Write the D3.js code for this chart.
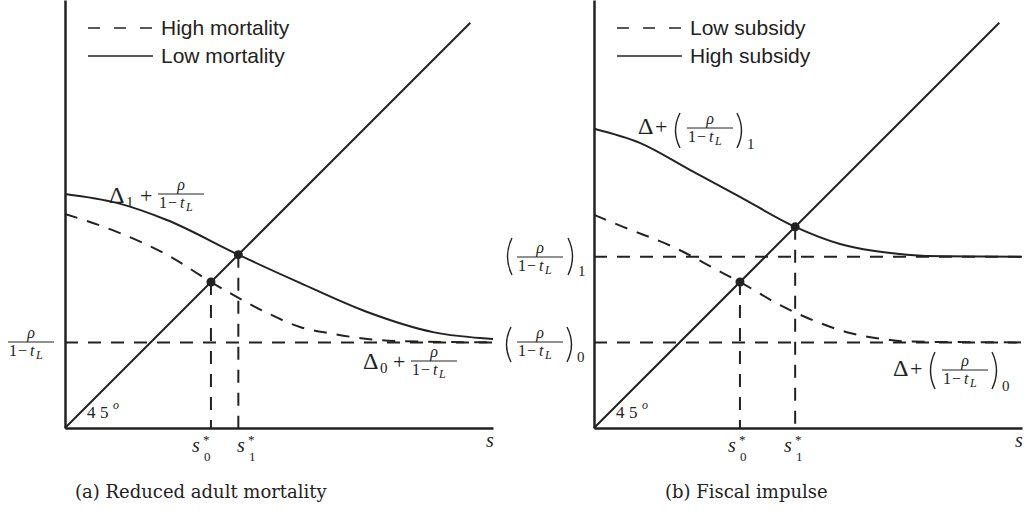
<!DOCTYPE html>
<html>
<head>
<meta charset="utf-8">
<script src="https://cdn.jsdelivr.net/npm/d3@7"></script>
<style>
body { margin: 0; background: #fff; }
svg { display: block; }
.math { font-family: "Liberation Serif", "Times New Roman", serif; fill: #222; }
.legend { font-family: "Liberation Sans", Arial, sans-serif; font-size: 21px; fill: #222; }
.caption { font-family: "DejaVu Serif", serif; font-size: 18px; fill: #222; }
</style>
</head>
<body>
<svg id="chart" width="1027" height="523"></svg>
<script>
// curves, in axis units (both axes run 0..10)
const lowMortality  = [[0, 5.47], [1.21, 5.26], [2.38, 4.86], [4.05, 4.05], [5.49, 3.39], [7.06, 2.71], [8.60, 2.24], [10, 2.08]];
const highMortality = [[0, 5.0], [1.17, 4.60], [2.52, 3.97], [3.41, 3.41], [3.93, 3.11], [4.72, 2.69], [5.49, 2.36], [6.26, 2.20], [7.06, 2.08], [7.83, 2.03], [10, 2.0]];
const highSubsidy   = [[0, 6.99], [1.07, 6.66], [2.24, 6.03], [3.41, 5.40], [4.70, 4.70], [5.75, 4.30], [6.52, 4.14], [7.31, 4.05], [8.2, 4.01], [10, 4.0]];
const lowSubsidy    = [[0, 4.98], [0.68, 4.70], [1.85, 4.23], [3.01, 3.62], [3.41, 3.41], [4.35, 2.87], [5.21, 2.48], [5.98, 2.22], [6.75, 2.08], [7.31, 2.02], [10, 2.0]];

const levelsA = [2.0];        // rho/(1-t_L)
const levelsB = [2.0, 4.0];   // (rho/(1-t_L))_0 , (rho/(1-t_L))_1
const equilibriaA = [3.41, 4.05];
const equilibriaB = [3.41, 4.70];
const diagonalEnd = 9.47;

const legendA = ["High mortality", "Low mortality"];
const legendB = ["Low subsidy", "High subsidy"];
const captions = ["(a) Reduced adult mortality", "(b) Fiscal impulse"];

const INK = "#222";
const SIZE = 428;
const DASH = "13,10";

const svg = d3.select("#chart");

const drawPanel = (ox, dashedCurve, solidCurve, levels, eqs, legend) => {
  const x = d3.scaleLinear().domain([0, 10]).range([ox, ox + SIZE]);
  const y = d3.scaleLinear().domain([0, 10]).range([SIZE, 0]);
  const g = svg.append("g");

  const line = d3.line()
    .x(d => x(d[0]))
    .y(d => y(d[1]))
    .curve(d3.curveMonotoneX);

  // horizontal reference levels
  g.selectAll(".level")
    .data(levels)
    .enter().append("line")
    .attr("class", "level")
    .attr("x1", x(0)).attr("x2", x(10))
    .attr("y1", d => y(d)).attr("y2", d => y(d))
    .attr("stroke", INK).attr("stroke-width", 2)
    .attr("stroke-dasharray", DASH);

  g.append("path")
    .datum(dashedCurve)
    .attr("d", line)
    .attr("fill", "none").attr("stroke", INK).attr("stroke-width", 2)
    .attr("stroke-dasharray", DASH);

  g.append("path")
    .datum(solidCurve)
    .attr("d", line)
    .attr("fill", "none").attr("stroke", INK).attr("stroke-width", 2);

  // 45 degree line
  g.append("line")
    .attr("x1", x(0)).attr("y1", y(0))
    .attr("x2", x(diagonalEnd)).attr("y2", y(diagonalEnd))
    .attr("stroke", INK).attr("stroke-width", 2);

  g.selectAll(".drop")
    .data(eqs)
    .enter().append("line")
    .attr("class", "drop")
    .attr("x1", d => x(d)).attr("x2", d => x(d))
    .attr("y1", d => y(d)).attr("y2", y(0))
    .attr("stroke", INK).attr("stroke-width", 2)
    .attr("stroke-dasharray", DASH);

  g.selectAll(".eq")
    .data(eqs)
    .enter().append("circle")
    .attr("class", "eq")
    .attr("cx", d => x(d)).attr("cy", d => y(d))
    .attr("r", 4.5)
    .attr("fill", INK);

  // axes: bare lines, no ticks
  g.append("g")
    .attr("transform", "translate(0," + y(0) + ")")
    .call(d3.axisBottom(x).tickValues([]).tickSizeOuter(0));
  g.append("g")
    .attr("transform", "translate(" + x(0) + ",0)")
    .call(d3.axisLeft(y).tickValues([]).tickSizeOuter(0));
  g.selectAll(".domain").attr("stroke", INK).attr("stroke-width", 2.5);

  // legend
  legend.forEach((name, i) => {
    const ly = 28 + i * 28;
    g.append("line")
      .attr("x1", ox + 23).attr("x2", ox + 88)
      .attr("y1", ly).attr("y2", ly)
      .attr("stroke", INK).attr("stroke-width", 1.6)
      .attr("stroke-dasharray", i == 0 ? "12,14" : null);
    g.append("text")
      .attr("class", "legend")
      .attr("x", ox + 96).attr("y", ly + 7)
      .text(name);
  });

  // 45^o label
  const deg = g.append("text").attr("class", "math").attr("y", 418).style("font-size", "17px");
  deg.append("tspan").attr("x", ox + 22).text("4");
  deg.append("tspan").attr("x", ox + 35).text("5");
  deg.append("tspan").attr("x", ox + 48).attr("dy", -9)
    .style("font-size", "12px").style("font-style", "italic").text("o");

  // axis label s
  g.append("text").attr("class", "math")
    .attr("x", ox + SIZE - 7).attr("y", 447)
    .style("font-size", "20px").style("font-style", "italic")
    .text("s");

  return g;
};

// --- little typesetting helpers for the math labels ---
const frac = (g, x0, barY) => {
  g.append("line")
    .attr("x1", x0).attr("x2", x0 + 46)
    .attr("y1", barY).attr("y2", barY)
    .attr("stroke", INK).attr("stroke-width", 1);
  g.append("text").attr("class", "math")
    .attr("x", x0 + 23).attr("y", barY - 4)
    .attr("text-anchor", "middle")
    .style("font-size", "16px").style("font-style", "italic")
    .text("ρ");
  const d = g.append("text").attr("class", "math")
    .attr("y", barY + 14).style("font-size", "16px");
  d.append("tspan").attr("x", x0 + 1).text("1");
  d.append("tspan").attr("x", x0 + 10).text("−");
  d.append("tspan").attr("x", x0 + 22).style("font-style", "italic").text("t");
  d.append("tspan").attr("x", x0 + 28).attr("dy", 3)
    .style("font-style", "italic").style("font-size", "12px").text("L");
};

const paren = (g, x0, top, bottom, open) => {
  const mid = (top + bottom) / 2;
  const dpath = open
    ? "M" + (x0 + 7) + "," + top + "Q" + (x0 - 2) + "," + mid + " " + (x0 + 7) + "," + bottom
    : "M" + x0 + "," + top + "Q" + (x0 + 9) + "," + mid + " " + x0 + "," + bottom;
  g.append("path").attr("d", dpath)
    .attr("fill", "none").attr("stroke", INK).attr("stroke-width", 1.4);
};

const txt = (g, x0, y0, s, size, italic) => {
  g.append("text").attr("class", "math")
    .attr("x", x0).attr("y", y0)
    .style("font-size", size + "px")
    .style("font-style", italic ? "italic" : "normal")
    .text(s);
};

// s^*_k : star and index stacked above each other
const starLabel = (g, x0, sub) => {
  txt(g, x0, 452, "s", 20, true);
  txt(g, x0 + 11, 444, "*", 13, false);
  txt(g, x0 + 12, 461, sub, 13, false);
};

const gA = drawPanel(65, highMortality, lowMortality, levelsA, equilibriaA, legendA);
const gB = drawPanel(594, lowSubsidy, highSubsidy, levelsB, equilibriaB, legendB);

// panel (a) labels
frac(gA, 8, 342);
txt(gA, 109, 203, "Δ", 24, false);
txt(gA, 126, 207, "1", 15, false);
txt(gA, 140, 203, "+", 22, false);
frac(gA, 158, 194);
txt(gA, 363, 369, "Δ", 24, false);
txt(gA, 380, 373, "0", 15, false);
txt(gA, 393, 369, "+", 22, false);
frac(gA, 411, 361);
starLabel(gA, 192, "0");
starLabel(gA, 237, "1");

// panel (b) y-axis labels (sit left of its axis)
paren(gB, 504, 327, 362, true);
frac(gB, 517, 342);
paren(gB, 567, 327, 362, false);
txt(gB, 577, 362, "0", 15, false);
paren(gB, 505, 238, 275, true);
frac(gB, 517, 257);
paren(gB, 568, 238, 275, false);
txt(gB, 578, 276, "1", 15, false);

// panel (b) curve labels
txt(gB, 638, 134, "Δ", 24, false);
txt(gB, 655, 134, "+", 22, false);
paren(gB, 673, 113, 148, true);
frac(gB, 687, 128);
paren(gB, 737, 113, 148, false);
txt(gB, 747, 149, "1", 15, false);

txt(gB, 893, 376, "Δ", 24, false);
txt(gB, 910, 376, "+", 22, false);
paren(gB, 928, 352, 389, true);
frac(gB, 942, 370);
paren(gB, 992, 352, 389, false);
txt(gB, 1002, 391, "0", 15, false);

starLabel(gB, 728, "0");
starLabel(gB, 784, "1");

// captions
svg.append("text").attr("class", "caption").attr("x", 75).attr("y", 498).text(captions[0]);
svg.append("text").attr("class", "caption").attr("x", 665).attr("y", 498).text(captions[1]);
</script>
</body>
</html>
